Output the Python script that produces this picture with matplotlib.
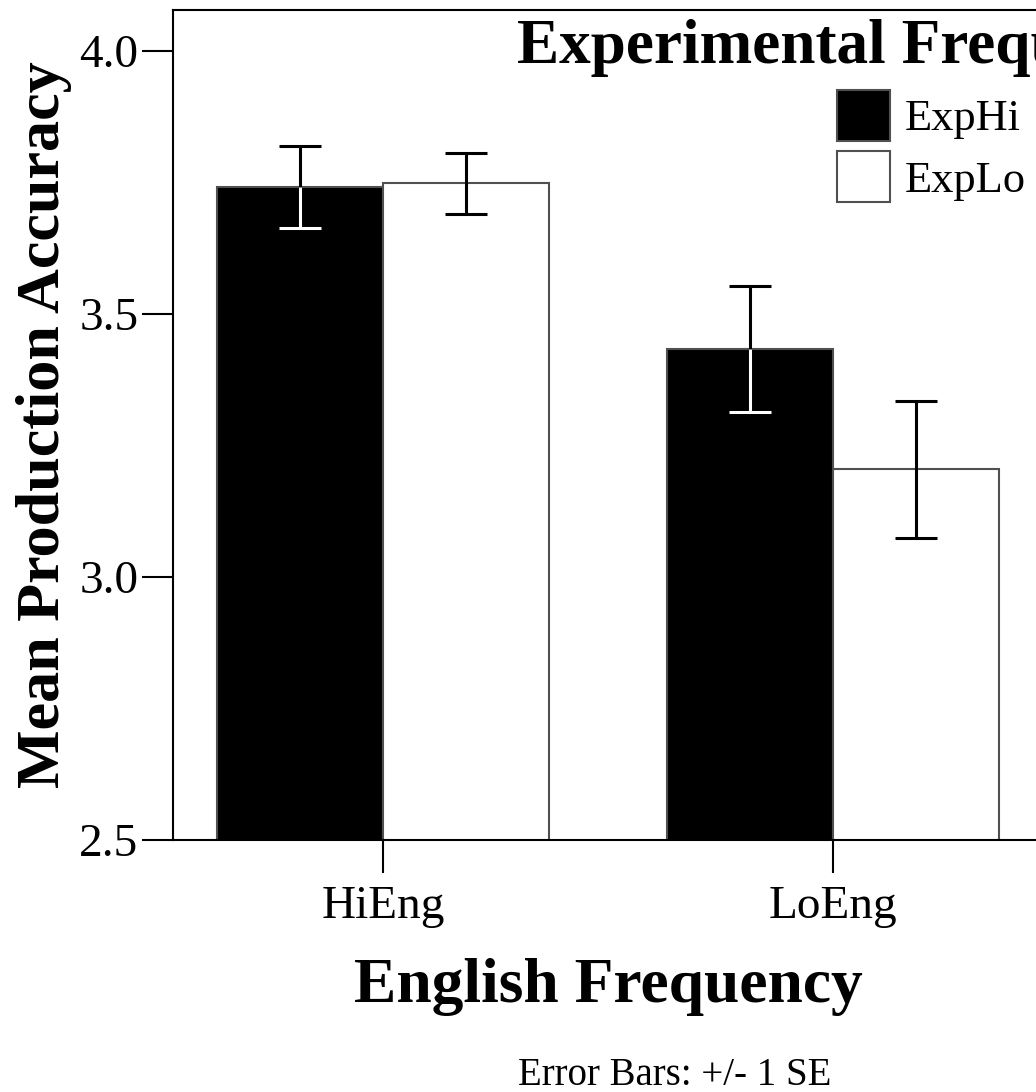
# coding:utf-8
import numpy as np
import matplotlib
matplotlib.use('Agg')
import matplotlib.pyplot as plt

plt.rcParams['font.family'] = ['Liberation Serif', 'DejaVu Serif']

# data
categories = ['HiEng', 'LoEng']
series = ['ExpHi', 'ExpLo']
exp_hi_mean = [3.741, 3.433]
exp_hi_se = [0.078, 0.120]
exp_lo_mean = [3.749, 3.205]
exp_lo_se = [0.058, 0.130]
y_ticks = [2.5, 3.0, 3.5, 4.0]

fig = plt.figure(figsize=(10.36, 10.92), dpi=100)
fig.patch.set_facecolor('white')
ax = fig.add_axes([173 / 1036, 1 - 840 / 1092, 870 / 1036, 830 / 1092])

x = np.arange(len(categories))
w = 0.369
edge = '#505050'
cap = 15
elw = 2.2

b1 = ax.bar(x - w / 2, exp_hi_mean, w, color='black', edgecolor=edge,
            linewidth=1.5, label=series[0], zorder=2)
b2 = ax.bar(x + w / 2, exp_lo_mean, w, color='white', edgecolor=edge,
            linewidth=1.5, label=series[1], zorder=2)

# error bars: black outside the bar, white where it runs over the black fill
ax.errorbar(x - w / 2, exp_hi_mean, yerr=exp_hi_se, fmt='none', ecolor='black',
            elinewidth=elw, capsize=cap, capthick=elw, zorder=3)
ax.errorbar(x + w / 2, exp_lo_mean, yerr=exp_lo_se, fmt='none', ecolor='black',
            elinewidth=elw, capsize=cap, capthick=elw, zorder=3)
lo = np.array(exp_hi_mean) - np.array(exp_hi_se)
ax.vlines(x - w / 2, lo, exp_hi_mean, color='white', linewidth=elw, zorder=4)
ax.plot(x - w / 2, lo, ls='none', marker='_', ms=2 * cap, mew=elw,
        color='white', zorder=4)

ax.set_xlim(-0.467, 1.467)
ax.set_ylim(2.5, 4.078)
ax.set_xticks(x)
ax.set_xticklabels(categories)
ax.set_yticks(y_ticks)
ax.set_yticklabels(['%.1f' % v for v in y_ticks])

for s in ax.spines.values():
    s.set_linewidth(1.5)
ax.tick_params(axis='y', direction='out', length=22, width=1.5, pad=3, labelsize=34)
ax.tick_params(axis='x', direction='out', length=24, width=1.5, pad=9, labelsize=34)

ax.set_ylabel('Mean Production Accuracy', fontsize=44.7, fontweight='bold')
ax.yaxis.set_label_coords(-0.116, 0.5)
ax.set_xlabel('English Frequency', fontsize=45.7, fontweight='bold')
ax.xaxis.set_label_coords(0.5, -0.142)

# legend title runs off the right edge, as in the reference
fig.text(517 / 1036, 1 - 63 / 1092, 'Experimental Frequency', fontsize=45.5,
         fontweight='bold', va='baseline', ha='left')
ax.legend(handles=[b1, b2], loc='upper left',
          bbox_to_anchor=(837 / 1036, 1 - 90 / 1092), bbox_transform=fig.transFigure,
          frameon=False, fontsize=32, borderpad=0, borderaxespad=0,
          handlelength=1.19, handleheight=1.40, handletextpad=0.34,
          labelspacing=0.22)

fig.text(675 / 1036, 1 - 1085 / 1092, 'Error Bars: +/- 1 SE', fontsize=28,
         va='baseline', ha='center')

fig.savefig('out.png', dpi=100, facecolor='white')
